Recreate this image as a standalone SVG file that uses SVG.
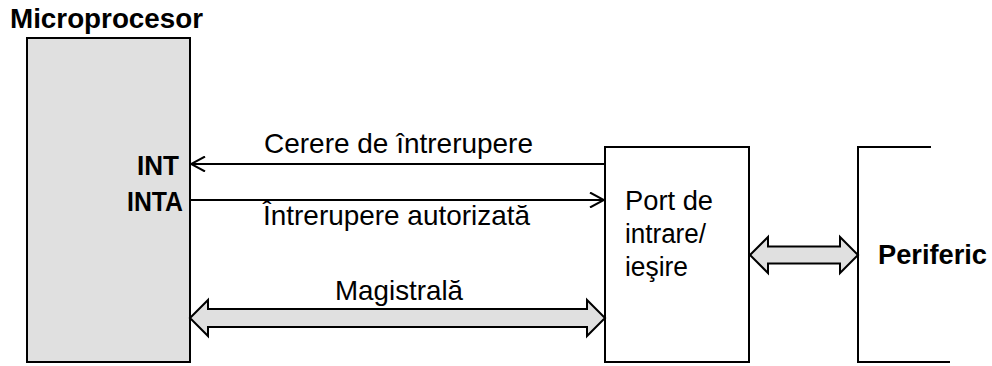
<svg xmlns="http://www.w3.org/2000/svg" width="992" height="366" viewBox="0 0 992 366">
  <style>
    .box { fill: #ffffff; stroke: #000000; stroke-width: 2; }
    .cpu { fill: #e0e0e0; stroke: #000000; stroke-width: 2; }
    .wire { fill: none; stroke: #000000; stroke-width: 2; }
    .bus { fill: #e0e0e0; stroke: #000000; stroke-width: 2; stroke-linejoin: miter; }
    text { font-family: "Liberation Sans", Arial, sans-serif; font-size: 28px; fill: #000000; }
    .b { font-weight: bold; font-size: 27px; }
    .p { font-size: 27px; }
  </style>
  <defs>
    <marker id="open" viewBox="0 0 16 16" refX="15" refY="8" markerWidth="16" markerHeight="16" markerUnits="userSpaceOnUse" orient="auto">
      <path d="M1,0.5 L15,8 L1,15.5" fill="none" stroke="#000000" stroke-width="2"/>
    </marker>
  </defs>

  <!-- Microprocessor -->
  <g id="microprocesor">
    <text class="b" x="10" y="28" textLength="193" lengthAdjust="spacingAndGlyphs">Microprocesor</text>
    <rect class="cpu" x="27" y="38" width="163" height="324"/>
    <text class="b" x="179" y="175" text-anchor="end" textLength="42" lengthAdjust="spacingAndGlyphs">INT</text>
    <text class="b" x="183" y="211" text-anchor="end" textLength="56" lengthAdjust="spacingAndGlyphs">INTA</text>
  </g>

  <!-- I/O port -->
  <g id="port">
    <rect class="box" x="605" y="147" width="144" height="215"/>
    <text class="p" x="625" y="210" textLength="88" lengthAdjust="spacingAndGlyphs">Port de</text>
    <text class="p" x="625" y="243" textLength="81" lengthAdjust="spacingAndGlyphs">intrare/</text>
    <text class="p" x="625" y="276" textLength="63" lengthAdjust="spacingAndGlyphs">ieşire</text>
  </g>

  <!-- Peripheral -->
  <g id="periferic">
    <path class="wire" d="M931,147 H858 V362 H950"/>
    <text class="b" x="878" y="264" textLength="109" lengthAdjust="spacingAndGlyphs">Periferic</text>
  </g>

  <!-- Connectors -->
  <g id="connectors">
    <line class="wire" x1="605" y1="164" x2="191" y2="164" marker-end="url(#open)"/>
    <text x="264" y="153" textLength="269" lengthAdjust="spacingAndGlyphs">Cerere de întrerupere</text>

    <line class="wire" x1="190" y1="200" x2="604" y2="200" marker-end="url(#open)"/>
    <text x="263" y="225" textLength="267" lengthAdjust="spacingAndGlyphs">Întrerupere autorizată</text>

    <path class="bus" d="M190,318 L208,300 V309 H587 V300 L605,318 L587,336 V327 H208 V336 Z"/>
    <text x="335" y="300" textLength="128" lengthAdjust="spacingAndGlyphs">Magistrală</text>

    <path class="bus" d="M750,255 L768,237 V246.5 H840 V237 L858,255 L840,273 V263.5 H768 V273 Z"/>
  </g>
</svg>
